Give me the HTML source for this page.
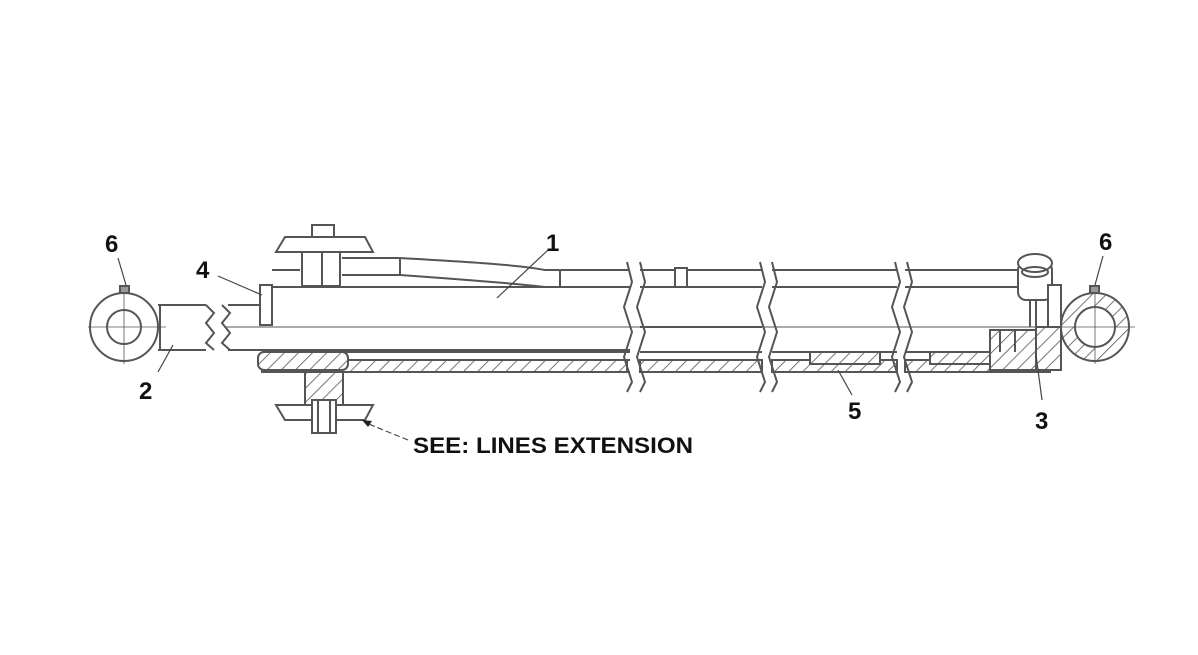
<!DOCTYPE html>
<html><head><meta charset="utf-8"><style>
html,body{margin:0;padding:0;background:#fff;}
svg{display:block}
text{font-family:"Liberation Sans",sans-serif;font-weight:bold;fill:#111}
</style></head><body>
<svg width="1198" height="655" viewBox="0 0 1198 655" xmlns="http://www.w3.org/2000/svg">
<defs>
<pattern id="h" width="10" height="10" patternUnits="userSpaceOnUse" patternTransform="rotate(45)">
<rect width="10" height="10" fill="#fff"/><line x1="0" y1="0" x2="0" y2="10" stroke="#666" stroke-width="1.8"/>
</pattern>
</defs>
<g fill="none" stroke="#555" stroke-width="2">
<circle cx="124" cy="327" r="34" fill="#fff"/>
<circle cx="124" cy="327" r="17"/>
<line x1="88" y1="327" x2="166" y2="327" stroke-width="0.8"/>
<line x1="124" y1="290" x2="124" y2="364" stroke-width="0.8"/>
<rect x="120" y="286" width="9" height="7" fill="#999"/>
<path d="M158 305 H206 M158 350 H206 M160 305 V350"/>
<path d="M206 305 l8 8 -8 10 8 10 -8 10 8 7"/>
<path d="M222 305 l8 8 -8 10 8 10 -8 10 8 7"/>
<path d="M228 305 H262 M228 350 H630"/>
<line x1="225" y1="327" x2="1130" y2="327" stroke-width="1"/>
<rect x="260" y="285" width="12" height="40" fill="#fff"/>
<path d="M272 287 H630 M272 270 H300 M342 258 H400 C470 262 520 265 545 270 H630 M342 275 H400 C470 280 520 284 545 287"/>
<path d="M400 258 V275 M560 270 V287"/>
<rect x="262" y="360" width="365" height="12" fill="url(#h)"/>
<rect x="640" y="360" width="122" height="12" fill="url(#h)"/>
<rect x="772" y="360" width="125" height="12" fill="url(#h)"/>
<rect x="905" y="360" width="145" height="12" fill="url(#h)"/>
<path d="M262 352 H630 M262 360 H630 M262 372 H630"/>
<path d="M640 270 H762 M640 287 H762 M640 327 H762 M640 352 H762 M640 360 H762 M640 372 H762"/>
<path d="M772 270 H897 M772 287 H897 M772 352 H897 M772 360 H897 M772 372 H897"/>
<path d="M905 270 H1020 M905 287 H1050 M905 352 H1050 M905 360 H1050 M905 372 H1050"/>
<rect x="675" y="268" width="12" height="19" fill="#fff"/>
<path d="M627 262 l5 20 -8 25 8 25 -8 25 8 25 -5 10"/>
<path d="M640 262 l5 20 -8 25 8 25 -8 25 8 25 -5 10"/>
<path d="M760 262 l5 20 -8 25 8 25 -8 25 8 25 -5 10"/>
<path d="M772 262 l5 20 -8 25 8 25 -8 25 8 25 -5 10"/>
<path d="M895 262 l5 20 -8 25 8 25 -8 25 8 25 -5 10"/>
<path d="M907 262 l5 20 -8 25 8 25 -8 25 8 25 -5 10"/>
<rect x="258" y="352" width="90" height="18" rx="6" fill="url(#h)"/>
<rect x="810" y="352" width="70" height="12" fill="url(#h)"/>
<rect x="930" y="352" width="60" height="12" fill="url(#h)"/>
<rect x="990" y="330" width="55" height="40" fill="url(#h)"/>
<path d="M990 330 V352 M1000 330 V352 M1015 330 V352"/>
<path d="M285 237 H365 L373 252 H276 Z" fill="#fff"/>
<rect x="312" y="225" width="22" height="12" fill="#fff"/>
<rect x="302" y="252" width="38" height="34" fill="#fff"/>
<line x1="322" y1="252" x2="322" y2="286"/>
<rect x="305" y="372" width="38" height="33" fill="url(#h)"/>
<path d="M276 405 H373 L365 420 H285 Z" fill="#fff"/>
<rect x="312" y="400" width="24" height="33" fill="#fff"/>
<path d="M318 400 V433 M330 400 V433"/>
<rect x="1018" y="262" width="34" height="38" rx="8" fill="#fff"/>
<ellipse cx="1035" cy="263" rx="17" ry="9" fill="#fff"/>
<ellipse cx="1035" cy="272" rx="13" ry="5"/>
<path d="M1030 300 V327 M1036 300 V327"/>
<rect x="1048" y="285" width="13" height="85" fill="#fff"/>
<rect x="1036" y="327" width="25" height="43" fill="url(#h)"/>
<circle cx="1095" cy="327" r="34" fill="url(#h)"/>
<circle cx="1095" cy="327" r="20" fill="#fff"/>
<line x1="1060" y1="327" x2="1135" y2="327" stroke-width="0.8"/>
<line x1="1095" y1="290" x2="1095" y2="364" stroke-width="0.8"/>
<rect x="1090" y="286" width="9" height="7" fill="#999"/>
</g>
<g stroke="#444" stroke-width="1.2" fill="none">
<line x1="118" y1="258" x2="126" y2="285"/>
<line x1="1103" y1="256" x2="1095" y2="285"/>
<line x1="218" y1="276" x2="262" y2="295"/>
<line x1="548" y1="250" x2="497" y2="298"/>
<line x1="158" y1="372" x2="173" y2="345"/>
<line x1="852" y1="395" x2="838" y2="370"/>
<line x1="1042" y1="400" x2="1036" y2="355"/>
<line x1="408" y1="440" x2="366" y2="423" stroke-dasharray="6,3"/>
</g>
<path d="M362 420 l10 1 -4 6 z" fill="#222"/>
<text x="105" y="252" font-size="24">6</text>
<text x="1099" y="250" font-size="24">6</text>
<text x="196" y="278" font-size="24">4</text>
<text x="546" y="251" font-size="24">1</text>
<text x="139" y="399" font-size="24">2</text>
<text x="848" y="419" font-size="24">5</text>
<text x="1035" y="429" font-size="24">3</text>
<text x="413" y="453" font-size="22" textLength="280" lengthAdjust="spacingAndGlyphs">SEE: LINES EXTENSION</text>
</svg>
</body></html>
